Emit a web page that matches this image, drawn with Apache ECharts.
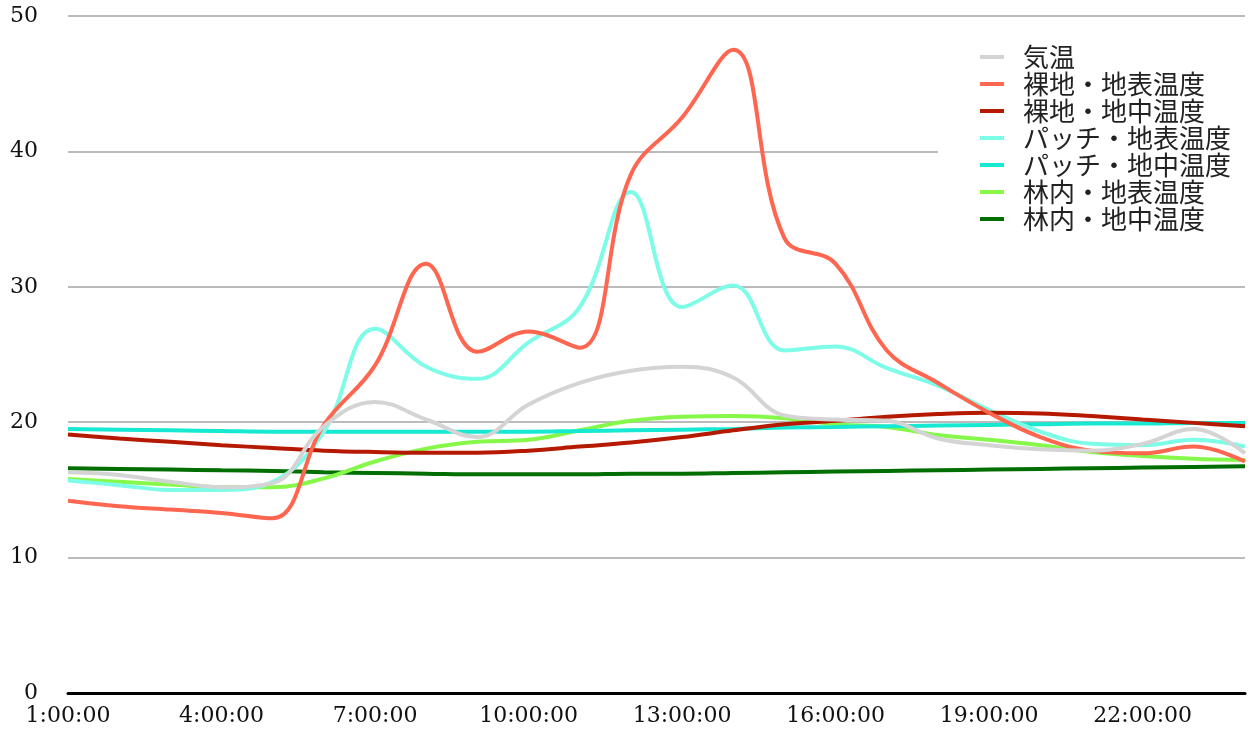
<!DOCTYPE html>
<html>
<head>
<meta charset="utf-8">
<script src="https://cdn.jsdelivr.net/npm/echarts@6/dist/echarts.min.js"></script>
<style>
html, body { margin: 0; padding: 0; background: #fff; }
#main { width: 1248px; height: 731px; }
</style>
</head>
<body>
<div id="main"></div>
<script>
var myChart = echarts.init(document.getElementById('main'));

var hours = ['1:00:00', '2:00:00', '3:00:00', '4:00:00', '5:00:00', '6:00:00', '7:00:00', '8:00:00',
	'9:00:00', '10:00:00', '11:00:00', '12:00:00', '13:00:00', '14:00:00', '15:00:00', '16:00:00',
	'17:00:00', '18:00:00', '19:00:00', '20:00:00', '21:00:00', '22:00:00', '23:00:00', '0:00:00'];

var seriesNames = ['気温', '裸地・地表温度', '裸地・地中温度', 'パッチ・地表温度', 'パッチ・地中温度', '林内・地表温度', '林内・地中温度'];
var seriesColors = ['#d4d4d4', '#ff6650', '#b51a00', '#7dfce8', '#16e8d2', '#86f84a', '#006e00'];

var airTemp = [16.3, 16.1, 15.6, 15.2, 15.5, 19.7, 21.5, 20.2, 18.9, 21.3, 22.9, 23.8,
	24.1, 23.3, 20.5, 20.2, 20.1, 18.8, 18.3, 18.0, 17.9, 18.4, 19.5, 17.7];
var bareSurface = [14.2, 13.8, 13.55, 13.3, 12.9, 19.8, 24.2, 31.7, 25.2, 26.7, 25.5, 38.3,
	42.5, 47.5, 33.6, 31.7, 25.3, 22.9, 20.7, 18.9, 17.9, 17.7, 18.2, 17.1];
var bareGround = [19.1, 18.8, 18.55, 18.3, 18.1, 17.9, 17.8, 17.75, 17.75, 17.9, 18.2, 18.5,
	18.9, 19.4, 19.85, 20.1, 20.4, 20.6, 20.7, 20.65, 20.45, 20.2, 19.95, 19.7];
var patchSurface = [15.7, 15.35, 15.0, 15.0, 15.6, 19.3, 26.9, 24.1, 23.2, 25.9, 28.5, 37.0,
	28.5, 30.1, 25.3, 25.6, 24.0, 22.7, 20.9, 19.3, 18.4, 18.3, 18.7, 18.2];
var patchGround = [19.5, 19.45, 19.4, 19.35, 19.3, 19.3, 19.3, 19.3, 19.3, 19.3, 19.35, 19.4,
	19.45, 19.5, 19.6, 19.65, 19.7, 19.75, 19.8, 19.85, 19.9, 19.9, 19.95, 19.95];
var forestSurface = [15.8, 15.6, 15.4, 15.2, 15.2, 15.85, 17.1, 18.05, 18.55, 18.7, 19.4, 20.1,
	20.4, 20.45, 20.3, 19.85, 19.65, 19.05, 18.7, 18.3, 17.8, 17.5, 17.3, 17.2];
var forestGround = [16.6, 16.55, 16.5, 16.45, 16.4, 16.3, 16.25, 16.2, 16.15, 16.15, 16.15, 16.2,
	16.2, 16.25, 16.3, 16.35, 16.4, 16.45, 16.5, 16.55, 16.6, 16.65, 16.7, 16.75];

var valueLists = [airTemp, bareSurface, bareGround, patchSurface, patchGround, forestSurface, forestGround];

var series = [];
// 後ろの系列から描いて、気温を一番上にする
for (let i = valueLists.length - 1; i >= 0; i--) {
	series.push({
		name: seriesNames[i],
		type: 'line',
		data: valueLists[i],
		smooth: 0.4,
		symbol: 'none',
		lineStyle: { width: 4, color: seriesColors[i] },
		itemStyle: { color: seriesColors[i] },
		z: 2 + (valueLists.length - i) * 0.01
	});
}

var option = {
	animation: false,
	backgroundColor: '#fff',
	grid: {
		left: 68,
		right: 3,
		top: 16,
		bottom: 38
	},
	legend: {
		orient: 'vertical',
		left: 938,
		top: 30,
		padding: [14, 14, 14, 42],
		backgroundColor: '#fff',
		itemGap: 1,
		itemWidth: 24,
		itemHeight: 4,
		icon: 'rect',
		data: seriesNames,
		textStyle: {
			fontFamily: 'Noto Sans CJK JP',
			fontSize: 26,
			color: '#222',
			padding: [0, 0, 0, 14]
		},
		z: 10
	},
	xAxis: {
		type: 'category',
		data: hours,
		boundaryGap: false,
		axisLine: { lineStyle: { color: '#000', width: 3 } },
		axisTick: { show: false },
		axisLabel: {
			interval: 2,
			margin: 12,
			fontFamily: 'DejaVu Serif',
			fontSize: 22,
			color: '#111'
		}
	},
	yAxis: {
		type: 'value',
		min: 0,
		max: 50,
		interval: 10,
		axisLine: { show: false },
		axisTick: { show: false },
		splitLine: { lineStyle: { color: '#bbb', width: 2 } },
		axisLabel: {
			margin: 30,
			fontFamily: 'DejaVu Serif',
			fontSize: 22,
			color: '#111'
		}
	},
	series: series
};

myChart.setOption(option);
</script>
</body>
</html>
